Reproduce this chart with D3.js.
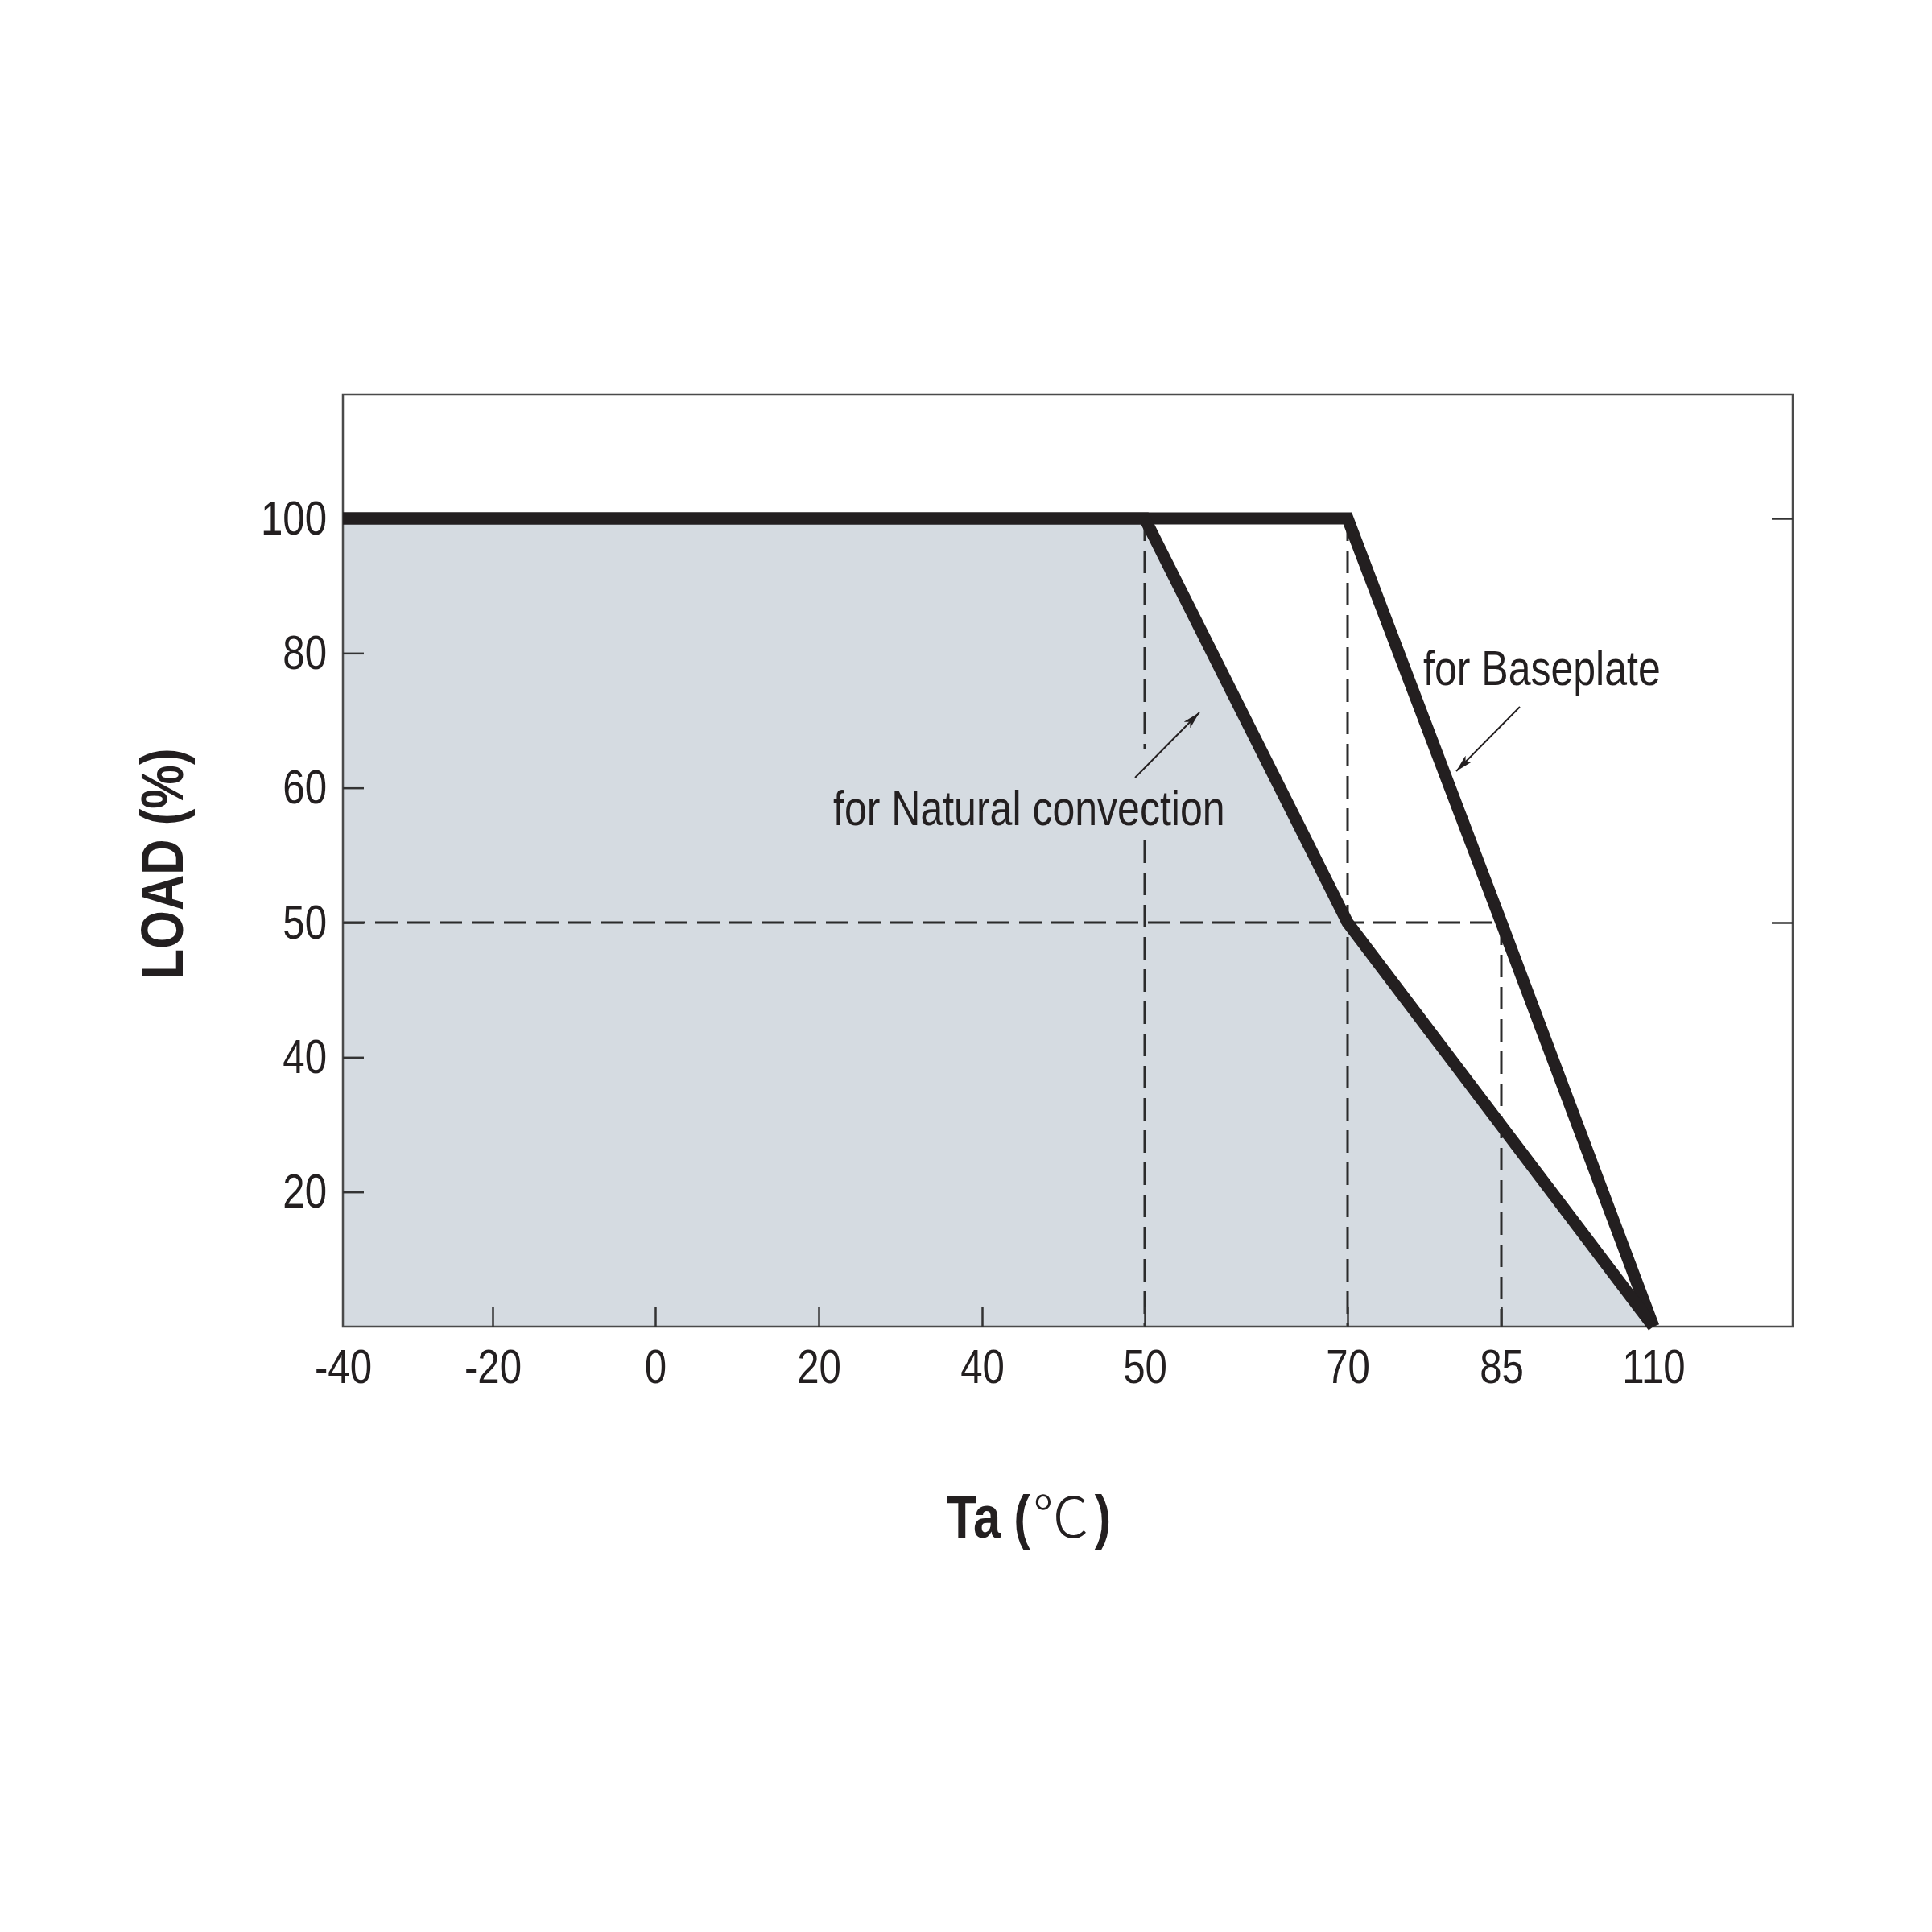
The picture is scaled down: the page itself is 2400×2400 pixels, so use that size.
<!DOCTYPE html>
<html>
<head>
<meta charset="utf-8">
<script src="https://cdn.jsdelivr.net/npm/d3@7"></script>
<style>
  html, body { margin: 0; padding: 0; background: #ffffff; }
  svg { display: block; }
</style>
</head>
<body>
<div id="chart"></div>
<script>
// ---------------- data ----------------
const xTicks = [-40, -20, 0, 20, 40, 50, 70, 85, 110];
const yTicks = [100, 80, 60, 50, 40, 20];
const yLevels = [0, 20, 40, 50, 60, 80, 100];

const naturalConvection = [
  { t: -40, load: 100 },
  { t: 50, load: 100 },
  { t: 70, load: 50 },
  { t: 110, load: 0 }
];
const baseplate = [
  { t: -40, load: 100 },
  { t: 70, load: 100 },
  { t: 85, load: 50 },
  { t: 110, load: 0 }
];
const guideVertical = [
  { t: 50, from: 100, to: 0 },
  { t: 70, from: 100, to: 0 },
  { t: 85, from: 50, to: 0 }
];
const guideHorizontal = [{ load: 50, from: -40, to: 85 }];
const rightTicks = [100, 50];

const labelNatural = "for Natural convection";
const labelBaseplate = "for Baseplate";
const yTitle = "LOAD (%)";
const xTitleParts = ["Ta", "(", "℃", ")"];

// ---------------- layout ----------------
const W = 2400, H = 2400;
const plot = { left: 426, right: 2227, top: 490, bottom: 1648 };
const xTickPx = [426, 612, 814, 1017, 1220, 1422, 1674, 1865, 2054];
const yStep = (plot.bottom - 644) / (yLevels.length - 1);

const sans = "'Liberation Sans', Arial, Helvetica, sans-serif";
const cjk = "'Noto Sans CJK JP', 'Noto Sans CJK SC', serif";
const ink = "#231f20";
const fillGray = "#d5dbe1";
const CONDENSE = 0.82;

function condense(sel, f) {
  sel.each(function () {
    const len = this.getComputedTextLength();
    if (len > 0) {
      d3.select(this).attr("textLength", len * f).attr("lengthAdjust", "spacingAndGlyphs");
    }
  });
}

const x = d3.scaleLinear().domain(xTicks).range(xTickPx);
const y = d3.scaleLinear().domain(yLevels).range(yLevels.map((d, i) => plot.bottom - i * yStep));

const svg = d3.select("#chart").append("svg")
  .attr("width", W).attr("height", H)
  .attr("viewBox", `0 0 ${W} ${H}`);

svg.append("rect").attr("width", W).attr("height", H).attr("fill", "#ffffff");

const defs = svg.append("defs");
defs.append("marker")
  .attr("id", "arrow")
  .attr("viewBox", "0 0 12 6")
  .attr("refX", 12).attr("refY", 3)
  .attr("markerWidth", 22).attr("markerHeight", 11)
  .attr("markerUnits", "userSpaceOnUse")
  .attr("orient", "auto")
  .append("path").attr("d", "M0,0 L12,3 L0,6 L3,3 Z").attr("fill", ink);

// fill under natural convection curve
const area = d3.area().x(d => x(d.t)).y0(y(0)).y1(d => y(d.load));
svg.append("path").datum(naturalConvection)
  .attr("d", area).attr("fill", fillGray);

// annotation label (natural) - drawn early to measure for dashed gap
const natText = svg.append("text")
  .attr("x", 1035).attr("y", 1025)
  .attr("font-family", sans).attr("font-size", 61)
  .attr("fill", ink)
  .text(labelNatural);
condense(natText, CONDENSE);
const nb = natText.node().getBBox();

// dashed guides
const dashG = svg.append("g")
  .attr("stroke", "#2b2b2b").attr("stroke-width", 3)
  .attr("stroke-dasharray", "28 12").attr("fill", "none");

guideVertical.forEach(g => {
  const gx = x(g.t);
  const y1 = y(g.from), y2 = y(g.to);
  if (gx >= nb.x && gx <= nb.x + nb.width) {
    dashG.append("line").attr("x1", gx).attr("x2", gx).attr("y1", y1).attr("y2", nb.y - 40);
    dashG.append("line").attr("x1", gx).attr("x2", gx).attr("y1", nb.y + nb.height + 6).attr("y2", y2);
  } else {
    dashG.append("line").attr("x1", gx).attr("x2", gx).attr("y1", y1).attr("y2", y2);
  }
});
guideHorizontal.forEach(g => {
  dashG.append("line")
    .attr("x1", x(g.from)).attr("x2", x(g.to))
    .attr("y1", y(g.load)).attr("y2", y(g.load));
});
natText.raise();

// frame
svg.append("rect")
  .attr("x", plot.left).attr("y", plot.top)
  .attr("width", plot.right - plot.left).attr("height", plot.bottom - plot.top)
  .attr("fill", "none").attr("stroke", "#4a4a4a").attr("stroke-width", 2.5);

// axes
const xAxis = d3.axisBottom(x).tickValues(xTicks).tickSize(-25).tickPadding(27)
  .tickFormat(d => d);
const gx = svg.append("g").attr("transform", `translate(0,${plot.bottom})`).call(xAxis);
gx.select(".domain").remove();
gx.selectAll(".tick line").attr("stroke", "#333").attr("stroke-width", 2.5)
  .filter(d => d === -40 || d === 110).remove();
gx.selectAll(".tick text").attr("font-family", sans).attr("font-size", 60).attr("fill", ink);
condense(gx.selectAll(".tick text"), CONDENSE);

const yAxis = d3.axisLeft(y).tickValues(yTicks).tickSize(-26).tickPadding(20).tickFormat(d => d);
const gy = svg.append("g").attr("transform", `translate(${plot.left},0)`).call(yAxis);
gy.select(".domain").remove();
gy.selectAll(".tick line").attr("stroke", "#333").attr("stroke-width", 2.5);
gy.selectAll(".tick text").attr("font-family", sans).attr("font-size", 60).attr("fill", ink);
condense(gy.selectAll(".tick text"), CONDENSE);

const yAxisR = d3.axisRight(y).tickValues(rightTicks).tickSize(-26).tickFormat("");
const gyr = svg.append("g").attr("transform", `translate(${plot.right},0)`).call(yAxisR);
gyr.select(".domain").remove();
gyr.selectAll(".tick line").attr("stroke", "#333").attr("stroke-width", 2.5);

// thick derating lines
const line = d3.line().x(d => x(d.t)).y(d => y(d.load));
[baseplate, naturalConvection].forEach(series => {
  svg.append("path").datum(series)
    .attr("d", line)
    .attr("fill", "none").attr("stroke", ink)
    .attr("stroke-width", 15).attr("stroke-linejoin", "miter").attr("stroke-miterlimit", 10);
});

// annotations
const bpText = svg.append("text")
  .attr("x", 1768).attr("y", 851)
  .attr("font-family", sans).attr("font-size", 61).attr("fill", ink)
  .text(labelBaseplate);
condense(bpText, CONDENSE);

svg.append("line")
  .attr("x1", 1410).attr("y1", 966).attr("x2", 1490).attr("y2", 885)
  .attr("stroke", ink).attr("stroke-width", 2).attr("marker-end", "url(#arrow)");
svg.append("line")
  .attr("x1", 1888).attr("y1", 878).attr("x2", 1809).attr("y2", 958)
  .attr("stroke", ink).attr("stroke-width", 2).attr("marker-end", "url(#arrow)");

// axis titles
const yt = svg.append("text")
  .attr("transform", "translate(227,1073) rotate(-90)")
  .attr("text-anchor", "middle")
  .attr("font-family", sans).attr("font-weight", "bold").attr("font-size", 75)
  .attr("fill", ink)
  .text(yTitle);
condense(yt, CONDENSE);

// x title: pieces laid out left to right
const xtStyles = [
  { family: sans, weight: "bold", size: 75, gapAfter: 16 },
  { family: sans, weight: "bold", size: 75, gapAfter: 3 },
  { family: cjk, weight: "300", size: 70, gapAfter: 7 },
  { family: sans, weight: "bold", size: 75, gapAfter: 0 }
];
let cursor = 1176;
const xtG = svg.append("g");
xTitleParts.forEach((txt, i) => {
  const st = xtStyles[i];
  const t = xtG.append("text")
    .attr("x", cursor).attr("y", 1910)
    .attr("font-family", st.family).attr("font-weight", st.weight).attr("font-size", st.size)
    .attr("fill", ink)
    .text(txt);
  if (st.family === sans) condense(t, CONDENSE);
  const w = +t.attr("textLength") || t.node().getComputedTextLength();
  cursor += w + st.gapAfter;
});
</script>
</body>
</html>
